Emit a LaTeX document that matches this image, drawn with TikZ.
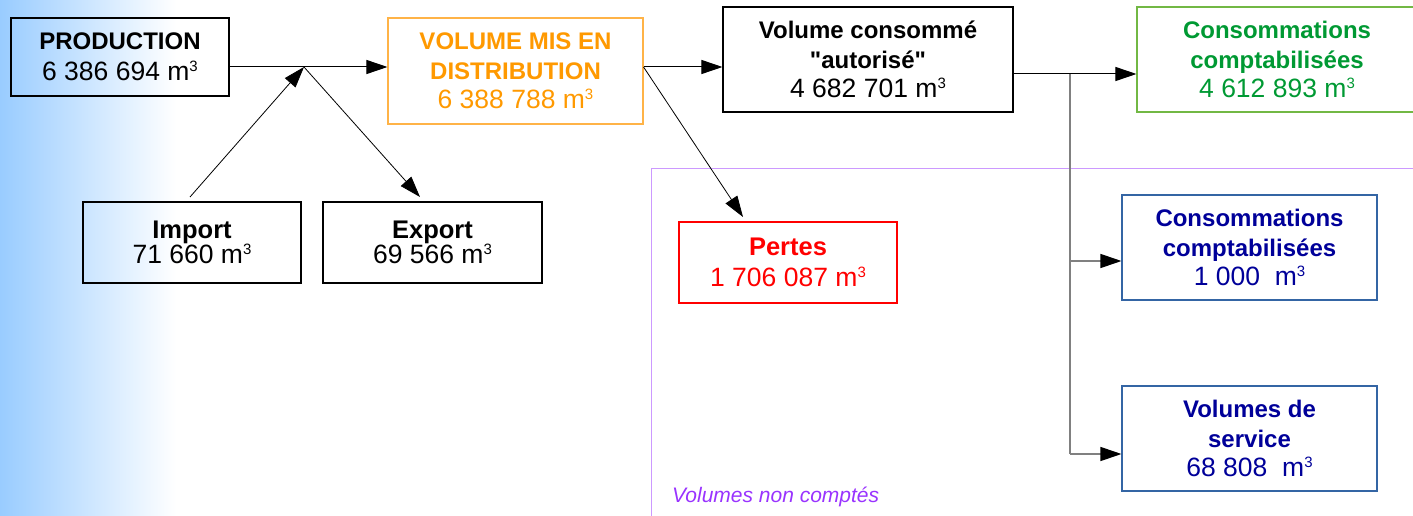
\documentclass[tikz,border=0pt]{standalone}
\usepackage{fontspec}
\setmainfont{Liberation Sans}
\usetikzlibrary{arrows.meta}
\definecolor{orangeD}{RGB}{255,153,0}
\definecolor{orangeB}{RGB}{255,179,71}
\definecolor{vertC}{RGB}{0,153,51}
\definecolor{vertB}{RGB}{114,184,68}
\definecolor{bleuC}{RGB}{0,0,153}
\definecolor{bleuB}{RGB}{52,101,164}
\definecolor{violetB}{RGB}{204,153,255}
\definecolor{violetT}{RGB}{153,51,255}
\definecolor{fondB}{RGB}{153,204,255}
\newcommand{\vlbl}{\fontsize{24}{29}\selectfont\bfseries}
\newcommand{\vbig}{\fontsize{25.5}{29}\selectfont\bfseries}
\newcommand{\vnum}{\fontsize{26.5}{29}\selectfont\mdseries}
\newcommand{\mcube}{m\raisebox{9pt}{\fontsize{15}{15}\selectfont 3}}
\begin{document}
\begin{tikzpicture}[x=1pt, y=-1pt, >={Triangle[length=21pt,width=14pt]},
  box/.style={draw, line width=1.1pt, align=center, inner sep=0pt,
    font=\fontsize{24}{29.5}\selectfont, minimum width=#1},
  box/.default=218pt,
  garr/.style={gray, line width=1.2pt, -{Triangle[length=21pt,width=14pt,black]}}]
  \useasboundingbox (0,0) rectangle (1413,516);
  \shade[left color=fondB, right color=white] (0,0) rectangle (176,516);
  \draw[violetB, line width=1pt] (1414,168) -- (651,168) -- (651,517);
  \node[anchor=west, inner sep=0pt, violetT, font=\fontsize{21}{24}\selectfont\itshape] (nc) at (672,497) {Volumes non comptés};
  \node[box, minimum height=78pt, font=\fontsize{24}{31.5}\selectfont] (prod) at (120,57) {\vlbl PRODUCTION\\\vnum 6 386 694 \mcube};
  \node[box, minimum height=81pt, font=\fontsize{26}{25}\selectfont] (imp) at (192,242.5) {\vbig Import\\\vnum 71 660 \mcube};
  \node[box=219pt, minimum height=81pt, font=\fontsize{26}{25}\selectfont] (exp) at (432.5,242.5) {\vbig Export\\\vnum 69 566 \mcube};
  \node[box=255pt, minimum height=106pt, draw=orangeB, text=orangeD] (dist) at (515.5,71) {\vlbl VOLUME MIS EN\\\vlbl DISTRIBUTION\\\vnum 6 388 788 \mcube};
  \node[box=290pt, minimum height=105pt] (auto) at (868,59.5) {\vlbl Volume consommé\\\vlbl \textquotedbl autorisé\textquotedbl\\\vnum 4 682 701 \mcube};
  \node[box=280pt, minimum height=105pt, draw=vertB, text=vertC] (cpt) at (1277,59.5) {\vlbl Consommations\\\vlbl comptabilisées\\\vnum 4 612 893 \mcube};
  \node[box=255pt, minimum height=105pt, draw=bleuB, text=bleuC] (cpt2) at (1249.5,247.5) {\vlbl Consommations\\\vlbl comptabilisées\\\vnum 1 000~~\mcube};
  \node[box=255pt, minimum height=105pt, draw=bleuB, text=bleuC] (serv) at (1249.5,438.5) {\vlbl Volumes de\\\vlbl service\\\vnum 68 808~~\mcube};
  \node[box, minimum height=81pt, draw=red, text=red, font=\fontsize{26}{31}\selectfont] (pert) at (788,262.5) {\vbig Pertes\\\vnum 1 706 087 \mcube};
  \coordinate (j1) at (304,67);
  \coordinate (impout) at (190,197);
  \coordinate (expin) at (420,197);
  \coordinate (pertin) at (743,217);
  \coordinate (j3) at (1070,74);
  \coordinate (b1) at (1070,261);
  \coordinate (b2) at (1070,454);
  \draw[line width=1pt] (prod.east |- j1) -- (j1);
  \draw[->, line width=1pt] (j1) -- (dist.west |- j1);
  \draw[->, line width=0.8pt] (impout) -- (j1);
  \draw[->, line width=0.8pt] (j1) -- (expin);
  \draw[->, line width=1pt] (dist.east |- j1) -- (auto.west |- j1);
  \draw[->, line width=0.8pt] (dist.east |- j1) -- (pertin);
  \draw[line width=1pt] (auto.east |- j3) -- (j3);
  \draw[->, line width=1pt] (j3) -- (cpt.west |- j3);
  \draw[gray, line width=1.2pt] (j3) -- (b2);
  \draw[garr] (b1) -- (cpt2.west |- b1);
  \draw[garr] (b2) -- (serv.west |- b2);
\end{tikzpicture}
\end{document}
